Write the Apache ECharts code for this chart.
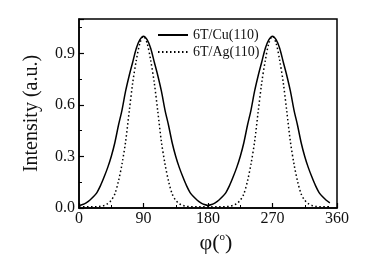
<!DOCTYPE html>
<html>
<head>
<meta charset="utf-8">
<script src="https://cdn.jsdelivr.net/npm/echarts@6/dist/echarts.min.js"></script>
<style>html,body{margin:0;padding:0;background:#fff}#c{width:368px;height:273px}</style>
</head>
<body>
<div id="c"></div>
<script>
var angles = [];
for (var a = 0; a <= 350; a += 5) angles.push(a);

var cuValues = [
  0.015,0.02,0.03,0.045,0.065,0.09,0.13,0.18,0.235,0.30,0.38,0.48,0.57,0.68,0.77,0.85,0.93,0.98,
  1.0,0.98,0.93,0.85,0.77,0.68,0.57,0.48,0.38,0.30,0.235,0.18,0.13,0.09,0.065,0.045,0.03,0.02,
  0.015,0.02,0.03,0.045,0.065,0.09,0.13,0.18,0.235,0.30,0.38,0.48,0.57,0.68,0.77,0.85,0.93,0.98,
  1.0,0.98,0.93,0.85,0.77,0.68,0.57,0.48,0.38,0.30,0.235,0.18,0.13,0.09,0.065,0.045,0.03
];
var agValues = [
  0.008,0.008,0.008,0.008,0.008,0.008,0.01,0.015,0.025,0.045,0.082,0.155,0.256,0.385,0.56,0.73,0.86,0.96,
  1.0,0.96,0.86,0.73,0.56,0.385,0.256,0.155,0.082,0.045,0.025,0.015,0.01,0.008,0.008,0.008,0.008,0.008,
  0.008,0.008,0.008,0.008,0.008,0.008,0.01,0.015,0.025,0.045,0.082,0.155,0.256,0.385,0.56,0.73,0.86,0.96,
  1.0,0.96,0.86,0.73,0.56,0.385,0.256,0.155,0.082,0.045,0.025,0.015,0.01,0.008,0.008,0.008,0.008
];
var seriesNames = ['6T/Cu(110)', '6T/Ag(110)'];
var xTicks = [0, 90, 180, 270, 360];
var yTicks = [0.0, 0.3, 0.6, 0.9];

function pairs(vals) { return angles.map(function (x, i) { return [x, vals[i]]; }); }

var FONT = 'Liberation Serif';
var chart = echarts.init(document.getElementById('c'));
chart.setOption({
  animation: false,
  backgroundColor: '#fff',
  grid: { left: 79, right: 31, top: 19, bottom: 65, show: true, borderColor: '#000', borderWidth: 1.5, backgroundColor: 'transparent' },
  legend: {
    left: 152, top: 23, orient: 'vertical', itemWidth: 30, itemHeight: 12, itemGap: 3,
    itemStyle: { opacity: 0 },
    textStyle: { fontFamily: FONT, fontSize: 14, color: '#111' },
    data: seriesNames
  },
  xAxis: {
    type: 'value', min: xTicks[0], max: xTicks[xTicks.length - 1], interval: 90,
    axisLine: { lineStyle: { color: '#000', width: 1.5 } },
    axisTick: { inside: true, length: 5, lineStyle: { color: '#000', width: 1.2 } },
    minorTick: { show: true, splitNumber: 2, length: 3, lineStyle: { color: '#000', width: 1 } },
    splitLine: { show: false },
    axisLabel: { fontFamily: FONT, fontSize: 16, color: '#111', margin: 3 },
    name: '{a|φ(}{b|o}{a|)}', nameLocation: 'middle', nameGap: 16,
    nameTextStyle: {
      padding: [0, 0, 0, 16],
      rich: {
        a: { fontFamily: FONT, fontSize: 22, color: '#111' },
        b: { fontFamily: FONT, fontSize: 11, color: '#111', verticalAlign: 'top', padding: [0, 0, 10, 0] }
      }
    }
  },
  yAxis: {
    type: 'value', min: 0, max: 1.1, interval: 0.3,
    axisLine: { lineStyle: { color: '#000', width: 1.5 } },
    axisTick: { inside: true, length: 5, lineStyle: { color: '#000', width: 1.2 } },
    minorTick: { show: true, splitNumber: 2, length: 3, lineStyle: { color: '#000', width: 1 } },
    splitLine: { show: false },
    axisLabel: {
      fontFamily: FONT, fontSize: 16, color: '#111', margin: 4, showMaxLabel: false,
      formatter: function (v) { return v > 1 ? '' : v.toFixed(1); }
    },
    name: 'Intensity (a.u.)', nameLocation: 'middle', nameGap: 37,
    nameTextStyle: { fontFamily: FONT, fontSize: 20, color: '#111' }
  },
  series: [
    { name: seriesNames[0], type: 'line', data: pairs(cuValues), symbol: 'none', smooth: 0.3,
      lineStyle: { color: '#000', width: 1.5, type: 'solid' }, itemStyle: { color: '#000' } },
    { name: seriesNames[1], type: 'line', data: pairs(agValues), symbol: 'none', smooth: 0.3,
      lineStyle: { color: '#000', width: 1.5, type: [1.5, 2.5] }, itemStyle: { color: '#000' } }
  ]
});
</script>
</body>
</html>
